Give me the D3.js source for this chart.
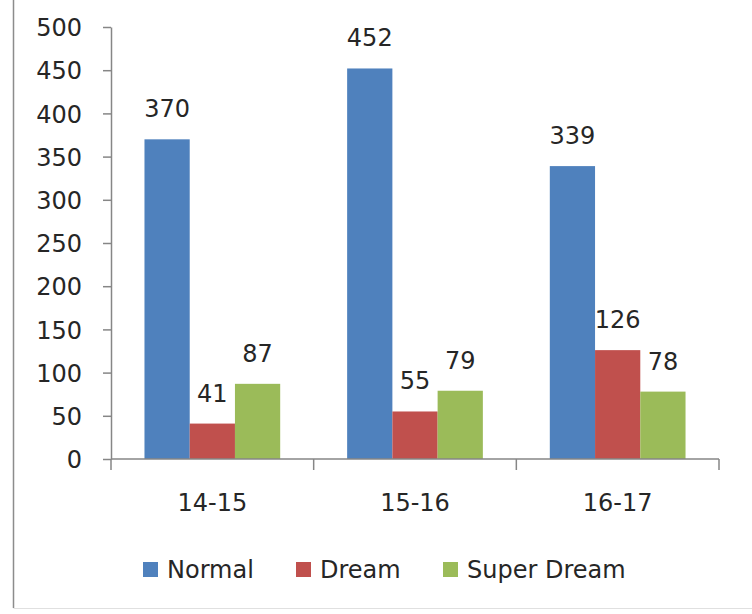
<!DOCTYPE html>
<html>
<head>
<meta charset="utf-8">
<script src="https://cdn.jsdelivr.net/npm/d3@7"></script>
<style>
  body { margin: 0; background: #fff; }
  text { font-family: "DejaVu Sans", Verdana, sans-serif; fill: #262626; }
</style>
</head>
<body>
<div id="chart"></div>
<script>
var categories = ["14-15", "15-16", "16-17"];
var series = ["Normal", "Dream", "Super Dream"];
var normal = [370, 452, 339];
var dream = [41, 55, 126];
var superDream = [87, 79, 78];
var yTicks = [0, 50, 100, 150, 200, 250, 300, 350, 400, 450, 500];

var colors = ["#4F81BD", "#C0504D", "#9BBB59"];
var values = [normal, dream, superDream];

var width = 752, height = 614;
var margin = { left: 111, top: 27, right: 33, bottom: 155 };
var fontSize = "24px";

var svg = d3.select("#chart").append("svg")
    .attr("width", width)
    .attr("height", height);

// outer frame (only left + bottom edges show in the crop)
svg.append("line")
    .attr("x1", 13.5).attr("x2", 13.5).attr("y1", 0).attr("y2", 608)
    .attr("stroke", "#8c8c8c").attr("stroke-width", 1.5);
svg.append("line")
    .attr("x1", 13.5).attr("x2", 752).attr("y1", 608.5).attr("y2", 608.5)
    .attr("stroke", "#e0e0e0").attr("stroke-width", 1);

var x0 = d3.scaleBand()
    .domain(categories)
    .range([margin.left, width - margin.right]);

var x1 = d3.scaleBand()
    .domain(series)
    .range([0, x0.bandwidth()])
    .paddingOuter(0.74)
    .paddingInner(0);

var y = d3.scaleLinear()
    .domain([0, 500])
    .range([height - margin.bottom, margin.top]);

// y axis
var gy = svg.append("g")
    .attr("transform", "translate(" + margin.left + ",0)")
    .call(d3.axisLeft(y).tickValues(yTicks).tickSize(8).tickPadding(21).tickSizeOuter(0));
gy.selectAll("text").style("font-size", fontSize).attr("fill", "#262626").attr("dy", "0.36em");
gy.selectAll("line, path").attr("stroke", "#868686").attr("stroke-width", 1.5);

// bars
var groups = svg.selectAll("g.cat")
    .data(categories)
    .enter().append("g")
    .attr("class", "cat")
    .attr("transform", d => "translate(" + x0(d) + ",0)");

groups.selectAll("rect")
    .data((d, i) => series.map((s, j) => ({ s: s, v: values[j][i], c: colors[j] })))
    .enter().append("rect")
    .attr("x", d => x1(d.s))
    .attr("y", d => y(d.v))
    .attr("width", x1.bandwidth())
    .attr("height", d => y(0) - y(d.v))
    .attr("fill", d => d.c);

groups.selectAll("text.val")
    .data((d, i) => series.map((s, j) => ({ s: s, v: values[j][i] })))
    .enter().append("text")
    .attr("class", "val")
    .attr("x", d => x1(d.s) + x1.bandwidth() / 2)
    .attr("y", d => y(d.v) - 22)
    .attr("text-anchor", "middle")
    .style("font-size", fontSize)
    .text(d => d.v);

// x axis: baseline + boundary ticks + centred labels
var y0 = y(0);
svg.append("line")
    .attr("x1", margin.left).attr("x2", width - margin.right)
    .attr("y1", y0).attr("y2", y0)
    .attr("stroke", "#868686").attr("stroke-width", 1.5);

var bounds = categories.map(c => x0(c)).concat([x0.range()[1]]);
svg.selectAll("line.xt")
    .data(bounds)
    .enter().append("line")
    .attr("class", "xt")
    .attr("x1", d => d).attr("x2", d => d)
    .attr("y1", y0).attr("y2", y0 + 11)
    .attr("stroke", "#868686").attr("stroke-width", 1.5);

svg.selectAll("text.xl")
    .data(categories)
    .enter().append("text")
    .attr("class", "xl")
    .attr("x", d => x0(d) + x0.bandwidth() / 2)
    .attr("y", 511)
    .attr("text-anchor", "middle")
    .style("font-size", fontSize)
    .text(d => d);

// legend
var legendX = [143, 296, 443];
var legend = svg.selectAll("g.leg")
    .data(series)
    .enter().append("g")
    .attr("class", "leg")
    .attr("transform", (d, i) => "translate(" + legendX[i] + ",562)");

legend.append("rect")
    .attr("width", 15).attr("height", 15)
    .attr("fill", (d, i) => colors[i]);

legend.append("text")
    .attr("x", 24)
    .attr("y", 16)
    .style("font-size", fontSize)
    .text(d => d);
</script>
</body>
</html>
